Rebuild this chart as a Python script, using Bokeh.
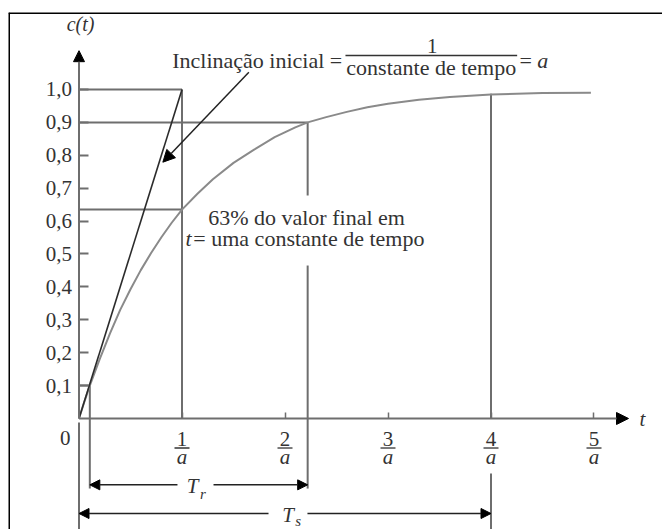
from bokeh.plotting import figure
from bokeh.models import Range1d, LinearAxis, FixedTicker, Arrow, NormalHead, Span
from bokeh.core.properties import value
from bokeh.embed import file_html
from bokeh.resources import INLINE

# ---------------- data (t in units of 1/a) ----------------
curve_t = [0, 0.05, 0.105, 0.2, 0.3, 0.4, 0.5, 0.6, 0.7, 0.8, 0.9, 1.0, 1.15, 1.3, 1.5, 1.7,
           1.9, 2.1, 2.22, 2.4, 2.6, 2.8, 3.0, 3.3, 3.6, 4.0, 4.5, 4.97]
curve_c = [0, 0.049, 0.10, 0.18, 0.258, 0.33, 0.393, 0.451, 0.503, 0.551, 0.595, 0.635, 0.683, 0.727,
           0.777, 0.817, 0.855, 0.885, 0.90, 0.916, 0.932, 0.946, 0.957, 0.969, 0.977, 0.985, 0.989, 0.99]

slope_t = [0, 1.0]          # initial slope line: reaches 1.0 at t = 1/a
slope_c = [0, 1.0]

y_ticks = [0.1, 0.2, 0.3, 0.4, 0.5, 0.6, 0.7, 0.8, 0.9, 1.0]
y_tick_labels = ["0,1", "0,2", "0,3", "0,4", "0,5", "0,6", "0,7", "0,8", "0,9", "1,0"]
x_ticks = [1, 2, 3, 4, 5]
x_tick_num = ["1", "2", "3", "4", "5"]
x_tick_den = ["a", "a", "a", "a", "a"]

# horizontal guide lines (level, from t0 to t1)
h_c = [1.0, 0.9, 0.635, 0.1]
h_t0 = [0, 0, 0, 0]
h_t1 = [1.0, 2.22, 1.0, 0.105]

# vertical guide lines (at t, from c0 to c1); the 2.2/a line is broken by the 63% note
v_t = [1.0, 2.22, 2.22, 0.105, 4.0, 4.0, 0.0]
v_c0 = [0, 0.678, -0.213, -0.213, 0, -0.167, -0.012]
v_c1 = [1.0, 0.9, 0.465, 0.1, 0.987, -0.36, -0.36]

# rise time / settling time spans (ends, and the gap left for the label)
tr_t = [0.105, 2.22]
tr_gap = [0.956, 1.306]
tr_c = -0.2017
ts_t = [0.0, 4.0]
ts_gap = [1.84, 2.218]
ts_c = -0.2888

# ---------------- figure ----------------
p = figure(width=662, height=529, title=None,
           x_range=Range1d(-0.68447, 5.66505), y_range=Range1d(-0.33739, 1.23404),
           x_axis_type=None, y_axis_type=None,
           toolbar_location=None, output_backend="svg",
           min_border=0, min_border_left=8, min_border_top=12)
p.outline_line_color = None
p.background_fill_color = "white"
p.border_fill_color = "white"

FONT = value("Liberation Serif")
GUIDE = "#6e6e6e"
TXT = "#333333"

# frame border (left and top; the rest is cropped in the reference)
p.add_layout(Span(location=p.x_range.start, dimension="height", line_color="black", line_width=3))
p.add_layout(Span(location=p.y_range.end, dimension="width", line_color="black", line_width=3))

# axes placed at data 0
yaxis = LinearAxis(fixed_location=0, ticker=FixedTicker(ticks=y_ticks),
                   major_label_overrides={t: l for t, l in zip(y_ticks, y_tick_labels)})
yaxis.axis_line_color = None
yaxis.major_tick_in = 9
yaxis.major_tick_out = 0
yaxis.major_tick_line_color = GUIDE
yaxis.major_tick_line_width = 2
yaxis.minor_tick_line_color = None
yaxis.major_label_standoff = 7
yaxis.major_label_text_font = "Liberation Serif"
yaxis.major_label_text_font_size = "21px"
yaxis.major_label_text_color = TXT
p.add_layout(yaxis, "left")

xaxis = LinearAxis(fixed_location=0, ticker=FixedTicker(ticks=x_ticks),
                   major_label_overrides={t: "" for t in x_ticks})
xaxis.axis_line_color = None
xaxis.major_tick_in = 6
xaxis.major_tick_out = 0
xaxis.major_tick_line_color = GUIDE
xaxis.major_tick_line_width = 1.5
xaxis.minor_tick_line_color = None
p.add_layout(xaxis, "below")

# axis arrows
p.add_layout(Arrow(end=NormalHead(size=12, fill_color="black", line_color="black"),
                   x_start=0, y_start=0, x_end=5.335, y_end=0,
                   line_color=GUIDE, line_width=2))
p.add_layout(Arrow(end=NormalHead(size=11, fill_color="black", line_color="black"),
                   x_start=0, y_start=0, x_end=0, y_end=1.118,
                   line_color=GUIDE, line_width=2))

# guide lines
p.segment(x0=h_t0, y0=h_c, x1=h_t1, y1=h_c, line_color=GUIDE, line_width=2)
p.segment(x0=v_t, y0=v_c0, x1=v_t, y1=v_c1, line_color=GUIDE, line_width=2)

# response curve and initial slope
p.line(curve_t, curve_c, line_color="#8a8a8a", line_width=2)
p.line(slope_t, slope_c, line_color="#2b2b2b", line_width=1.6)

# pointer arrow from the slope annotation
p.add_layout(Arrow(end=NormalHead(size=12, fill_color="black", line_color="black"),
                   x_start=1.649, y_start=1.0526, x_end=0.814, y_end=0.779,
                   line_color="#222222", line_width=1.5))

# Tr and Ts double arrows, each drawn as two halves around its label
for ends, gap, c in ((tr_t, tr_gap, tr_c), (ts_t, ts_gap, ts_c)):
    for g, e in zip(gap, ends):
        p.add_layout(Arrow(end=NormalHead(size=10, fill_color="black", line_color="black"),
                           x_start=g, y_start=c, x_end=e, y_end=c,
                           line_color="#222222", line_width=1.5))

# x tick labels as fractions k / a
p.text(x=x_ticks, y=[-0.0608] * len(x_ticks), text=x_tick_num, text_font=FONT,
       text_font_size="21px", text_color=TXT, text_align="center", text_baseline="alphabetic")
p.scatter(x=x_ticks, y=[-0.0897] * len(x_ticks), marker="dash", size=15,
          line_color=TXT, line_width=1.3)
p.text(x=x_ticks, y=[-0.1185] * len(x_ticks), text=x_tick_den, text_font=FONT,
       text_font_size="21px", text_font_style="italic", text_color=TXT,
       text_align="center", text_baseline="alphabetic")
p.text(x=[-0.134], y=[-0.0598], text=["0"], text_font=FONT, text_font_size="21px",
       text_color=TXT, text_align="center", text_baseline="alphabetic")

# axis names
p.text(x=[0.0146], y=[1.2002], text=["c(t)"], text_font=FONT, text_font_size="20px",
       text_font_style="italic", text_color=TXT, text_align="center", text_baseline="alphabetic")
p.text(x=[5.471], y=[-0.0008], text=["t"], text_font=FONT, text_font_size="21px",
       text_font_style="italic", text_color=TXT, text_align="center", text_baseline="alphabetic")

# slope annotation: Inclinação inicial = 1 / constante de tempo = a
p.text(x=[0.905], y=[1.0882], text=["Inclinação inicial ="], text_font=FONT,
       text_font_size="22px", text_color=TXT, text_align="left", text_baseline="alphabetic")
p.text(x=[3.43], y=[1.1312], text=["1"], text_font=FONT, text_font_size="21px",
       text_color=TXT, text_align="center", text_baseline="alphabetic")
p.segment(x0=[2.587], y0=[1.1033], x1=[4.254], y1=[1.1033], line_color=TXT, line_width=1.3)
p.text(x=[3.42], y=[1.0669], text=["constante de tempo"], text_font=FONT,
       text_font_size="22px", text_color=TXT, text_align="center", text_baseline="alphabetic")
p.text(x=[4.277], y=[1.0882], text=["="], text_font=FONT, text_font_size="22px",
       text_color=TXT, text_align="left", text_baseline="alphabetic")
p.text(x=[4.449], y=[1.0882], text=["a"], text_font=FONT, text_font_size="22px",
       text_font_style="italic", text_color=TXT, text_align="left", text_baseline="alphabetic")

# 63% annotation
p.text(x=[2.209], y=[0.6119], text=["63% do valor final em"], text_font=FONT,
       text_font_size="22px", text_color=TXT, text_align="center", text_baseline="alphabetic")
p.text(x=[1.034], y=[0.5482], text=["t"], text_font=FONT, text_font_size="22px",
       text_font_style="italic", text_color=TXT, text_align="left", text_baseline="alphabetic")
p.text(x=[1.11], y=[0.5482], text=["= uma constante de tempo"], text_font=FONT,
       text_font_size="22px", text_color=TXT, text_align="left", text_baseline="alphabetic")

# Tr and Ts labels
p.text(x=[1.102], y=[-0.2058], text=["T"], text_font=FONT, text_font_size="21px",
       text_font_style="italic", text_color=TXT, text_align="center", text_baseline="alphabetic")
p.text(x=[1.175], y=[-0.229], text=["r"], text_font=FONT, text_font_size="15px",
       text_font_style="italic", text_color=TXT, text_align="left", text_baseline="alphabetic")
p.text(x=[2.029], y=[-0.2918], text=["T"], text_font=FONT, text_font_size="21px",
       text_font_style="italic", text_color=TXT, text_align="center", text_baseline="alphabetic")
p.text(x=[2.10], y=[-0.311], text=["s"], text_font=FONT, text_font_size="15px",
       text_font_style="italic", text_color=TXT, text_align="left", text_baseline="alphabetic")

open("out.html", "w").write(file_html(p, INLINE))
